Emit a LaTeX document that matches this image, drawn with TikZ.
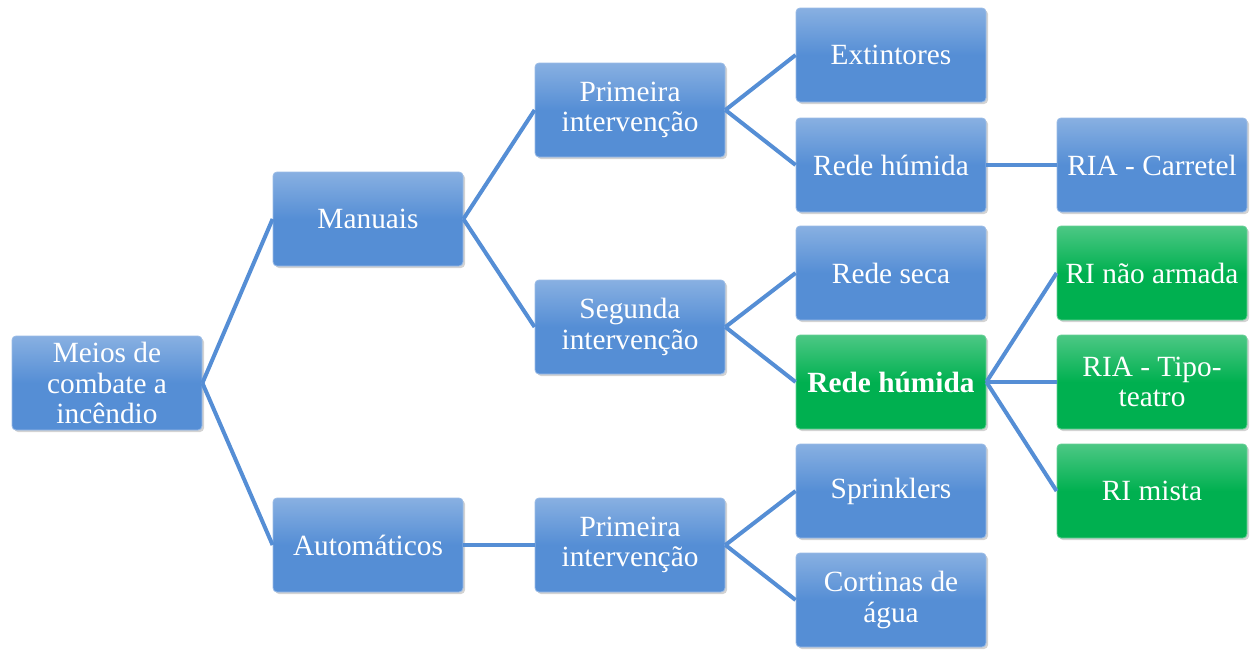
\documentclass[tikz,border=0pt]{standalone}
\usepackage{fontspec}
\setmainfont{Liberation Serif}
\usepackage{xcolor}
\usetikzlibrary{positioning,shadows}

\definecolor{boxblue}{RGB}{85,142,213}
\definecolor{boxgreen}{RGB}{0,176,80}
\definecolor{linkblue}{RGB}{85,142,213}

\begin{document}
\begin{tikzpicture}[x=0.75pt, y=-0.75pt,
    box/.style={rectangle, rounded corners=3pt, minimum width=142.5pt, minimum height=70.5pt,
        inner sep=0pt, align=center, text=white, font=\fontsize{22}{23}\selectfont,
        top color=boxblue!70!white, bottom color=boxblue, middle color=boxblue,
        draw=boxblue!60!white, line width=0.6pt,
        drop shadow={opacity=0.35, shadow xshift=1.5pt, shadow yshift=-1.5pt}},
    greenbox/.style={box, top color=boxgreen!70!white, bottom color=boxgreen, middle color=boxgreen,
        draw=boxgreen!60!white},
    link/.style={linkblue, line width=3pt}]

    % Frame
    \useasboundingbox (0,0) rectangle (1256,650);

    % Root
    \node[box] (meios) at (107,383) {Meios de\\combate a\\incêndio};

    % Manual / automatic
    \node[box] (manuais) at (368,219) {Manuais};
    \node[box] (automaticos) at (368,545) {Automáticos};

    % Intervention level
    \node[box] (primeiraM) at (630,110) {Primeira\\intervenção};
    \node[box] (segundaM) at (630,327) {Segunda\\intervenção};
    \node[box] (primeiraA) at (630,545) {Primeira\\intervenção};

    % Means
    \node[box] (extintores) at (891,55) {Extintores};
    \node[box] (redeHum) at (891,165) {Rede húmida};
    \node[box] (redeSeca) at (891,273) {Rede seca};
    \node[greenbox] (redeHumB) at (891,382) {\bfseries Rede húmida};
    \node[box] (sprinklers) at (891,491) {Sprinklers};
    \node[box] (cortinas) at (891,600) {Cortinas de\\água};

    % Types
    \node[box] (carretel) at (1152,165) {RIA - Carretel};
    \node[greenbox] (naoArmada) at (1152,273) {RI não armada};
    \node[greenbox] (teatro) at (1152,382) {RIA - Tipo-\\teatro};
    \node[greenbox] (mista) at (1152,491) {RI mista};

    % Connectors
    \draw[link] (meios.east) -- (manuais.west);
    \draw[link] (meios.east) -- (automaticos.west);
    \draw[link] (manuais.east) -- (primeiraM.west);
    \draw[link] (manuais.east) -- (segundaM.west);
    \draw[link] (automaticos.east) -- (primeiraA.west);
    \draw[link] (primeiraM.east) -- (extintores.west);
    \draw[link] (primeiraM.east) -- (redeHum.west);
    \draw[link] (segundaM.east) -- (redeSeca.west);
    \draw[link] (segundaM.east) -- (redeHumB.west);
    \draw[link] (primeiraA.east) -- (sprinklers.west);
    \draw[link] (primeiraA.east) -- (cortinas.west);
    \draw[link] (redeHum.east) -- (carretel.west);
    \draw[link] (redeHumB.east) -- (naoArmada.west);
    \draw[link] (redeHumB.east) -- (teatro.west);
    \draw[link] (redeHumB.east) -- (mista.west);
\end{tikzpicture}
\end{document}
